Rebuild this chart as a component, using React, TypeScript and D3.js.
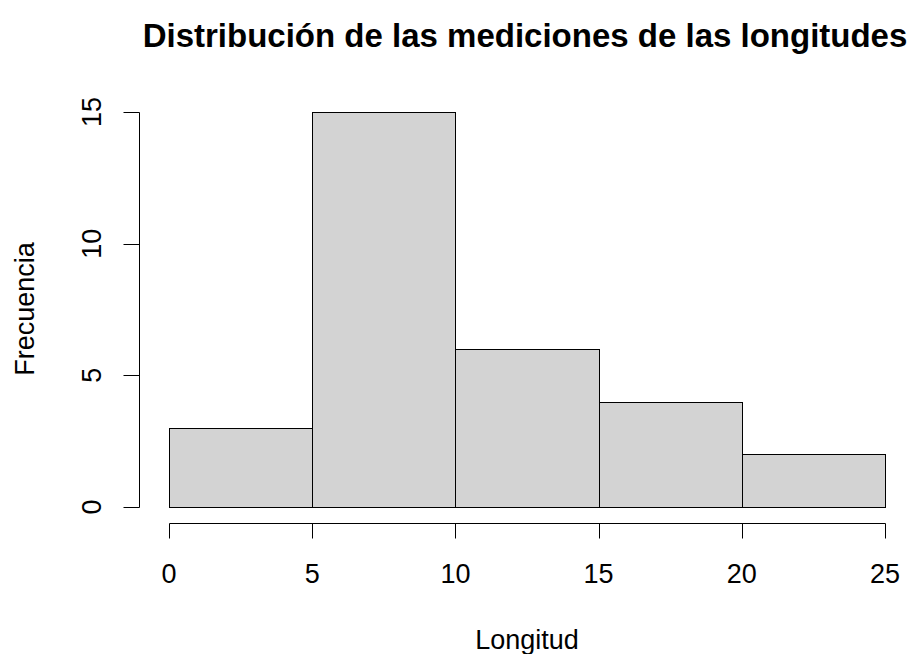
import React, { useEffect, useRef } from 'react';
import * as d3 from 'd3';

// histogram bins (Longitud) and counts
const binStarts = [0, 5, 10, 15, 20];
const binWidth = 5;
const counts = [3, 15, 6, 4, 2];
const xTicks = [0, 5, 10, 15, 20, 25];
const yTicks = [0, 5, 10, 15];

const title = 'Distribución de las mediciones de las longitudes';
const xLabel = 'Longitud';
const yLabel = 'Frecuencia';

const FONT = '"Liberation Sans", Arial, Helvetica, sans-serif';
const BASE = 27;

export default function App() {
  const svgRef = useRef<SVGSVGElement>(null);

  useEffect(() => {
    if (!svgRef.current) return;
    const svg = d3.select(svgRef.current);
    svg.selectAll('*').remove();

    const width = 920;
    const height = 654;

    const x = d3.scaleLinear().domain([0, 25]).range([169, 885]);
    const y = d3.scaleLinear().domain([0, 15]).range([507, 112]);

    svg.append('rect').attr('width', width).attr('height', height).attr('fill', '#fff');

    // bars
    svg.selectAll('.bar')
      .data(counts)
      .enter()
      .append('rect')
      .attr('class', 'bar')
      .attr('x', (_d, i) => Math.round(x(binStarts[i])) + 0.5)
      .attr('y', d => Math.round(y(d)) + 0.5)
      .attr('width', (_d, i) => Math.round(x(binStarts[i] + binWidth)) - Math.round(x(binStarts[i])))
      .attr('height', d => Math.round(y(0)) - Math.round(y(d)))
      .attr('fill', '#d3d3d3')
      .attr('stroke', '#000')
      .attr('stroke-width', 1);

    // x axis
    const axisY = 523.5;
    const gx = svg.append('g').attr('stroke', '#000').attr('stroke-width', 1);
    gx.append('line')
      .attr('x1', Math.round(x(0)) + 0.5).attr('x2', Math.round(x(25)) + 0.5)
      .attr('y1', axisY).attr('y2', axisY);
    xTicks.forEach(t => {
      gx.append('line')
        .attr('x1', Math.round(x(t)) + 0.5).attr('x2', Math.round(x(t)) + 0.5)
        .attr('y1', axisY).attr('y2', axisY + 15);
    });
    svg.selectAll('.xtick')
      .data(xTicks)
      .enter()
      .append('text')
      .attr('x', d => x(d))
      .attr('y', 583)
      .attr('text-anchor', 'middle')
      .style('font-family', FONT)
      .style('font-size', `${BASE}px`)
      .attr('fill', '#000')
      .text(d => d);

    // y axis
    const axisX = 139.5;
    const gy = svg.append('g').attr('stroke', '#000').attr('stroke-width', 1);
    gy.append('line')
      .attr('x1', axisX).attr('x2', axisX)
      .attr('y1', Math.round(y(0)) + 0.5).attr('y2', Math.round(y(15)) + 0.5);
    yTicks.forEach(t => {
      gy.append('line')
        .attr('x1', axisX - 16).attr('x2', axisX)
        .attr('y1', Math.round(y(t)) + 0.5).attr('y2', Math.round(y(t)) + 0.5);
    });
    svg.selectAll('.ytick')
      .data(yTicks)
      .enter()
      .append('text')
      .attr('transform', d => `translate(101,${y(d)}) rotate(-90)`)
      .attr('text-anchor', 'middle')
      .style('font-family', FONT)
      .style('font-size', `${BASE}px`)
      .attr('fill', '#000')
      .text(d => d);

    // title and axis labels
    svg.append('text')
      .attr('x', 525)
      .attr('y', 47)
      .attr('text-anchor', 'middle')
      .style('font-family', FONT)
      .style('font-size', '33px')
      .style('font-weight', 'bold')
      .attr('fill', '#000')
      .text(title);

    svg.append('text')
      .attr('x', 527)
      .attr('y', 649)
      .attr('text-anchor', 'middle')
      .style('font-family', FONT)
      .style('font-size', `${BASE}px`)
      .attr('fill', '#000')
      .text(xLabel);

    svg.append('text')
      .attr('transform', 'translate(34,309) rotate(-90)')
      .attr('text-anchor', 'middle')
      .style('font-family', FONT)
      .style('font-size', `${BASE}px`)
      .attr('fill', '#000')
      .text(yLabel);
  }, []);

  return (
    <svg
      ref={svgRef}
      width={920}
      height={654}
      viewBox="0 0 920 654"
      style={{ display: 'block', position: 'absolute', left: 0, top: 0 }}
    />
  );
}
